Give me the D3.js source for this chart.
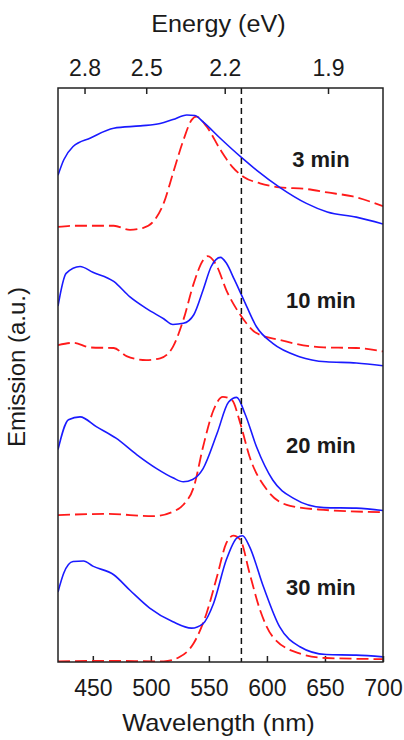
<!DOCTYPE html>
<html>
<head>
<meta charset="utf-8">
<script src="https://cdn.jsdelivr.net/npm/d3@7"></script>
<style>
  body { margin: 0; background: #fff; }
  text { font-family: "Liberation Sans", Arial, sans-serif; fill: #1a1a1a; }
</style>
</head>
<body>
<div id="chart"></div>
<script>
var svgWidth = 404;
var svgHeight = 740;

var margin = { top: 88, right: 21, bottom: 78, left: 58 };
var width = svgWidth - margin.left - margin.right;
var height = svgHeight - margin.top - margin.bottom;

// Data: [wavelength (nm), emission (a.u., stacked)]
var blue3 = [[420,84.8],[425,87.5],[433,89.8],[448,91.3],[468,93.0],[491,93.4],[508,93.8],[519,94.5],[531,95.3],[538,95.2],[545,94.1],[560,91.2],[578,87.9],[591,85.7],[611,82.7],[634,79.9],[652,78.4],[677,77.5],[700,76.3]];
var red3 = [[420,75.8],[433,76.0],[468,76.0],[482,75.3],[493,75.6],[502,76.7],[511,79.9],[519,85.1],[528,90.9],[535,94.4],[539,95.0],[548,93.3],[560,89.2],[570,86.3],[580,84.5],[594,83.4],[611,82.7],[634,82.4],[652,81.8],[674,81.1],[700,79.4]];

var blue10 = [[420,62.0],[427,67.7],[439,68.9],[450,67.9],[468,66.3],[482,63.6],[496,61.6],[511,59.8],[519,58.8],[528,59.0],[537,60.5],[545,64.8],[552,68.9],[560,70.5],[565,69.5],[572,66.6],[580,63.1],[591,58.4],[605,55.5],[628,53.2],[651,52.3],[677,52.1],[700,51.6]];
var red10 = [[420,55.2],[433,55.6],[448,54.8],[468,54.7],[479,53.3],[496,52.6],[508,52.9],[519,54.9],[528,59.6],[537,66.0],[545,70.0],[549,70.7],[557,68.9],[565,64.8],[577,60.5],[591,57.3],[611,56.1],[649,54.8],[677,54.7],[700,54.1]];

var blue20 = [[420,37.0],[429,42.2],[439,42.7],[453,41.0],[470,39.0],[488,36.1],[505,33.7],[519,32.1],[528,31.4],[536,31.8],[545,33.7],[557,39.8],[567,45.3],[574,46.1],[581,43.3],[591,37.5],[605,31.7],[623,28.5],[649,26.9],[677,26.8],[700,26.4]];
var red20 = [[420,25.6],[462,25.8],[502,25.4],[519,26.2],[528,27.4],[537,30.5],[545,37.5],[554,43.9],[562,46.2],[570,45.6],[577,41.6],[585,35.8],[600,30.0],[620,27.2],[649,26.5],[700,26.1]];

var blue30 = [[420,12.2],[425,15.5],[433,17.5],[442,17.6],[450,16.7],[468,15.2],[482,12.5],[499,9.4],[519,7.0],[535,5.9],[545,6.7],[554,10.2],[565,17.8],[574,21.6],[579,22.0],[585,20.1],[597,13.1],[611,6.1],[628,2.7],[651,1.3],[677,1.2],[700,0.9]];
var red30 = [[420,0.1],[462,0.2],[511,0.1],[525,0.9],[537,3.3],[548,8.5],[557,14.9],[565,20.7],[571,22.0],[577,21.3],[585,15.5],[594,9.1],[605,4.4],[628,1.5],[651,0.7],[700,0.5]];

var panelLabels = ["3 min", "10 min", "20 min", "30 min"];
var labelEmission = [86.2, 61.7, 36.4, 11.7];
var wavelengthTicks = [450, 500, 550, 600, 650, 700];
var energyTicks = [2.8, 2.5, 2.2, 1.9];
var refWavelength = 578;

var svg = d3.select("#chart")
  .append("svg")
  .attr("width", svgWidth)
  .attr("height", svgHeight);

var chartGroup = svg.append("g")
  .attr("transform", `translate(${margin.left}, ${margin.top})`);

var xScale = d3.scaleLinear().domain([420, 700]).range([0, width]);
var yScale = d3.scaleLinear().domain([0, 100]).range([height, 0]);

chartGroup.append("clipPath").attr("id", "clip")
  .append("rect").attr("width", width).attr("height", height);

// bottom axis (wavelength), ticks pointing inward
var xAxis = d3.axisBottom(xScale)
  .tickValues(wavelengthTicks)
  .tickSizeInner(-6)
  .tickSizeOuter(0)
  .tickPadding(18);

chartGroup.append("g")
  .attr("transform", `translate(0, ${height})`)
  .call(xAxis)
  .call(g => g.select(".domain").remove())
  .call(g => g.selectAll("line").attr("stroke", "#222").attr("stroke-width", 1.5))
  .call(g => g.selectAll("text").attr("font-size", 23).attr("fill", "#1a1a1a")
    .attr("font-family", "Liberation Sans, Arial, sans-serif"));

// top axis (energy), E = 1240 / lambda
var eAxis = d3.axisTop(xScale)
  .tickValues(energyTicks.map(e => 1240 / e))
  .tickFormat((d, i) => energyTicks[i].toFixed(1))
  .tickSizeInner(-6)
  .tickSizeOuter(0)
  .tickPadding(12);

chartGroup.append("g")
  .call(eAxis)
  .call(g => g.select(".domain").remove())
  .call(g => g.selectAll("line").attr("stroke", "#222").attr("stroke-width", 1.5))
  .call(g => g.selectAll("text").attr("font-size", 23).attr("fill", "#1a1a1a")
    .attr("font-family", "Liberation Sans, Arial, sans-serif"));

var line = d3.line()
  .x(d => xScale(d[0]))
  .y(d => yScale(d[1]))
  .curve(d3.curveMonotoneX);

var plot = chartGroup.append("g").attr("clip-path", "url(#clip)");

[red3, red10, red20, red30].forEach(function(s) {
  plot.append("path")
    .datum(s)
    .attr("d", line)
    .attr("fill", "none")
    .attr("stroke", "#ff1a1a")
    .attr("stroke-width", 1.8)
    .attr("stroke-dasharray", "12,5");
});

[blue3, blue10, blue20, blue30].forEach(function(s) {
  plot.append("path")
    .datum(s)
    .attr("d", line)
    .attr("fill", "none")
    .attr("stroke", "#1a1aff")
    .attr("stroke-width", 1.6);
});

// reference line
chartGroup.append("line")
  .attr("x1", xScale(refWavelength))
  .attr("x2", xScale(refWavelength))
  .attr("y1", 0)
  .attr("y2", height)
  .attr("stroke", "#111")
  .attr("stroke-width", 1.5)
  .attr("stroke-dasharray", "6,4");

// frame
chartGroup.append("rect")
  .attr("width", width)
  .attr("height", height)
  .attr("fill", "none")
  .attr("stroke", "#222")
  .attr("stroke-width", 1.5);

// panel labels
chartGroup.selectAll(".panelLabel")
  .data(panelLabels)
  .enter()
  .append("text")
  .attr("class", "panelLabel")
  .attr("x", xScale(646.5))
  .attr("y", (d, i) => yScale(labelEmission[i]))
  .attr("text-anchor", "middle")
  .attr("font-size", 22)
  .attr("font-weight", "bold")
  .text(d => d);

// axis titles
svg.append("text")
  .attr("transform", `translate(${margin.left + width / 2 - 2}, 731) scale(1.06, 1)`)
  .attr("text-anchor", "middle")
  .attr("font-size", 24)
  .text("Wavelength (nm)");

svg.append("text")
  .attr("transform", `translate(${margin.left + width / 2 - 2}, 32) scale(1.05, 1)`)
  .attr("text-anchor", "middle")
  .attr("font-size", 24)
  .text("Energy (eV)");

svg.append("text")
  .attr("transform", "translate(25, 367) rotate(-90)")
  .attr("text-anchor", "middle")
  .attr("font-size", 24)
  .text("Emission (a.u.)");
</script>
</body>
</html>
